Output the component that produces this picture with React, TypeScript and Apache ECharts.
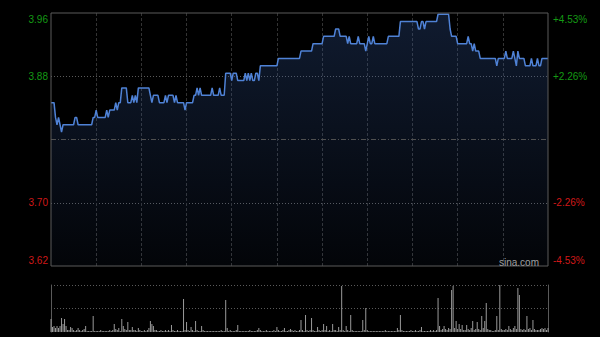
import React, { useEffect, useRef } from 'react';
import * as echarts from 'echarts';

const PRE_CLOSE = 3.79;
const PRICE_MIN = 3.6183;
const PRICE_MAX = 3.9617;
const PCT_MAX = 4.53;
const LAST_MINUTE = 330;
const LEFT_LABELS = ['3.62', '3.70', '', '3.88', '3.96'];
const RIGHT_LABELS = ['-4.53%', '-2.26%', '', '+2.26%', '+4.53%'];
const WATERMARK = 'sina.com';

const PRICES = [
  3.84, 3.84, 3.84, 3.82, 3.81, 3.82, 3.81, 3.80, 3.81, 3.81,
  3.81, 3.81, 3.81, 3.81, 3.81, 3.81, 3.82, 3.82, 3.81, 3.81,
  3.81, 3.81, 3.81, 3.81, 3.81, 3.81, 3.81, 3.81, 3.82, 3.82,
  3.83, 3.82, 3.82, 3.82, 3.82, 3.82, 3.82, 3.83, 3.82, 3.83,
  3.83, 3.83, 3.83, 3.84, 3.83, 3.84, 3.84, 3.86, 3.86, 3.86,
  3.86, 3.84, 3.84, 3.84, 3.85, 3.84, 3.85, 3.84, 3.86, 3.86,
  3.86, 3.86, 3.86, 3.86, 3.86, 3.86, 3.85, 3.84, 3.85, 3.85,
  3.85, 3.85, 3.84, 3.84, 3.84, 3.84, 3.85, 3.84, 3.85, 3.85,
  3.85, 3.85, 3.84, 3.85, 3.84, 3.84, 3.84, 3.84, 3.84, 3.83,
  3.84, 3.84, 3.84, 3.84, 3.84, 3.85, 3.85, 3.86, 3.85, 3.86,
  3.85, 3.85, 3.85, 3.85, 3.85, 3.85, 3.85, 3.86, 3.85, 3.85,
  3.85, 3.85, 3.86, 3.85, 3.85, 3.85, 3.88, 3.88, 3.88, 3.88,
  3.87, 3.88, 3.88, 3.88, 3.87, 3.87, 3.87, 3.87, 3.87, 3.88,
  3.87, 3.88, 3.87, 3.88, 3.87, 3.87, 3.88, 3.88, 3.87, 3.89,
  3.89, 3.89, 3.89, 3.89, 3.89, 3.89, 3.89, 3.89, 3.89, 3.89,
  3.89, 3.90, 3.90, 3.90, 3.90, 3.90, 3.90, 3.90, 3.90, 3.90,
  3.90, 3.90, 3.90, 3.90, 3.90, 3.90, 3.91, 3.91, 3.91, 3.91,
  3.91, 3.91, 3.91, 3.91, 3.92, 3.92, 3.92, 3.92, 3.92, 3.92,
  3.92, 3.93, 3.93, 3.93, 3.93, 3.93, 3.93, 3.93, 3.93, 3.94,
  3.94, 3.94, 3.93, 3.93, 3.93, 3.93, 3.93, 3.92, 3.93, 3.92,
  3.92, 3.92, 3.92, 3.92, 3.93, 3.92, 3.92, 3.92, 3.92, 3.91,
  3.92, 3.93, 3.92, 3.92, 3.93, 3.92, 3.92, 3.92, 3.92, 3.92,
  3.92, 3.92, 3.92, 3.92, 3.93, 3.93, 3.93, 3.93, 3.93, 3.93,
  3.93, 3.93, 3.95, 3.95, 3.95, 3.95, 3.95, 3.95, 3.95, 3.95,
  3.95, 3.95, 3.95, 3.95, 3.94, 3.94, 3.95, 3.95, 3.94, 3.95,
  3.95, 3.95, 3.95, 3.95, 3.95, 3.95, 3.95, 3.96, 3.96, 3.96,
  3.96, 3.96, 3.96, 3.96, 3.96, 3.94, 3.93, 3.93, 3.93, 3.93,
  3.92, 3.92, 3.92, 3.92, 3.92, 3.92, 3.92, 3.93, 3.92, 3.92,
  3.91, 3.92, 3.91, 3.91, 3.91, 3.90, 3.90, 3.90, 3.90, 3.90,
  3.90, 3.90, 3.90, 3.90, 3.90, 3.90, 3.89, 3.90, 3.90, 3.90,
  3.90, 3.90, 3.91, 3.90, 3.90, 3.90, 3.90, 3.91, 3.90, 3.89,
  3.91, 3.90, 3.90, 3.90, 3.90, 3.89, 3.89, 3.89, 3.89, 3.90,
  3.89, 3.89, 3.89, 3.90, 3.89, 3.89, 3.90, 3.90, 3.90, 3.90,
  3.90,
];

const VOL_MAX = 47;
const VOLUMES = [
  13, 5, 6, 4, 6, 4, 6, 14, 8, 13,
  6, 2, 2, 5, 4, 2, 1, 2, 4, 2,
  1, 2, 3, 6, 1, 1, 1, 1, 16, 1,
  1, 1, 1, 2, 1, 1, 1, 1, 1, 2,
  1, 2, 8, 3, 2, 4, 1, 13, 6, 3,
  2, 10, 2, 2, 5, 2, 2, 1, 4, 2,
  1, 1, 2, 1, 2, 4, 11, 8, 6, 2,
  2, 1, 1, 2, 1, 1, 2, 1, 2, 1,
  7, 2, 1, 1, 2, 1, 1, 1, 33, 2,
  10, 2, 1, 5, 2, 1, 11, 2, 1, 1,
  6, 2, 1, 1, 1, 1, 1, 1, 1, 1,
  1, 1, 1, 2, 1, 1, 32, 4, 1, 2,
  1, 1, 1, 2, 7, 1, 1, 1, 1, 1,
  1, 1, 2, 1, 1, 1, 1, 2, 4, 2,
  1, 1, 1, 2, 1, 1, 1, 1, 2, 1,
  5, 2, 1, 1, 2, 4, 1, 1, 2, 3,
  2, 1, 2, 1, 1, 2, 12, 2, 1, 17,
  2, 1, 2, 14, 2, 1, 1, 5, 2, 1,
  2, 8, 2, 6, 1, 2, 1, 8, 2, 2,
  1, 5, 2, 46, 2, 1, 6, 2, 1, 17,
  2, 1, 1, 1, 1, 1, 1, 12, 2, 24,
  2, 1, 1, 1, 1, 1, 1, 1, 1, 1,
  1, 1, 2, 1, 1, 1, 1, 1, 1, 1,
  4, 2, 17, 2, 1, 1, 1, 1, 1, 2,
  1, 1, 2, 1, 1, 2, 5, 1, 1, 1,
  1, 1, 2, 1, 2, 1, 2, 34, 6, 2,
  3, 6, 3, 2, 4, 3, 42, 46, 4, 11,
  3, 8, 3, 7, 2, 2, 7, 3, 2, 4,
  11, 2, 3, 10, 3, 2, 16, 4, 11, 29,
  3, 2, 2, 1, 1, 2, 16, 2, 47, 3,
  2, 2, 3, 2, 6, 3, 2, 4, 6, 3,
  44, 37, 3, 2, 3, 2, 16, 3, 4, 2,
  12, 3, 2, 2, 2, 3, 4, 3, 4, 2,
  4,
];

const GREEN = '#149a14';
const RED = '#d01818';
const FONT = '"Liberation Sans", Arial, sans-serif';

export default function App() {
  const ref = useRef<HTMLDivElement>(null);
  useEffect(() => {
    document.body.style.margin = '0';
    document.body.style.background = '#000';
    const chart = echarts.init(ref.current!, null, { renderer: 'svg' });
    const base = { fontSize: 10, fontFamily: FONT };
    const rich = {
      g: { ...base, color: GREEN },
      gt: { ...base, color: GREEN, padding: [12, 0, 0, 0] },
      r: { ...base, color: RED },
      rb: { ...base, color: RED, padding: [0, 0, 12, 0] },
    };
    const styleFor = (idx: number) => (idx === 0 ? 'rb' : idx === 1 ? 'r' : idx === 3 ? 'g' : 'gt');
    const xSplitColors = Array.from({ length: 12 }, (_, k) => (k === 0 || k === 11 ? 'transparent' : '#333'));
    chart.setOption({
      animation: false,
      backgroundColor: '#000',
      grid: [
        { left: 51, right: 52, top: 13, height: 253, show: true, borderColor: '#5a5a5a', borderWidth: 1, backgroundColor: 'transparent', z: 10, outerBoundsMode: 'none', containLabel: false },
        { left: 51, right: 52, top: 285, height: 47, show: false, outerBoundsMode: 'none', containLabel: false },
      ],
      xAxis: [
        {
          gridIndex: 0, type: 'value', min: 0, max: LAST_MINUTE, interval: 30,
          axisLine: { show: false }, axisTick: { show: false }, axisLabel: { show: false },
          splitLine: { show: true, lineStyle: { color: xSplitColors, type: [3, 2], width: 1 } },
        },
        {
          gridIndex: 1, type: 'value', min: 0, max: LAST_MINUTE, interval: 30,
          axisLine: { show: false }, axisTick: { show: false }, axisLabel: { show: false },
          splitLine: { show: false },
        },
      ],
      yAxis: [
        {
          gridIndex: 0, type: 'value', position: 'left', min: PRICE_MIN, max: PRICE_MAX,
          interval: (PRICE_MAX - PRICE_MIN) / 4,
          axisLine: { show: false }, axisTick: { show: false }, splitLine: { show: false },
          axisLabel: {
            margin: 3,
            formatter: (_v: number, idx: number) => {
              const t = LEFT_LABELS[idx] ?? '';
              return t ? `{${styleFor(idx)}|${t}}` : '';
            },
            rich,
          },
        },
        {
          gridIndex: 0, type: 'value', position: 'right', min: -PCT_MAX, max: PCT_MAX,
          interval: PCT_MAX / 2,
          axisLine: { show: false }, axisTick: { show: false },
          splitLine: { show: true, lineStyle: { color: ['transparent', '#5a5a5a', 'transparent', '#5a5a5a', 'transparent'], type: [1, 2], width: 1 } },
          axisLabel: {
            margin: 5,
            formatter: (_v: number, idx: number) => {
              const t = RIGHT_LABELS[idx] ?? '';
              return t ? `{${styleFor(idx)}|${t}}` : '';
            },
            rich,
          },
        },
        {
          gridIndex: 1, type: 'value', position: 'left', min: 0, max: VOL_MAX, interval: VOL_MAX / 2,
          axisLine: { show: true, lineStyle: { color: '#5a5a5a', width: 1 } },
          axisTick: { show: false }, axisLabel: { show: false },
          splitLine: { show: true, lineStyle: { color: ['transparent', '#5a5a5a', '#5a5a5a'], type: [1, 2], width: 1 } },
        },
        {
          gridIndex: 1, type: 'value', position: 'right', min: 0, max: VOL_MAX,
          axisLine: { show: true, lineStyle: { color: '#5a5a5a', width: 1 } },
          axisTick: { show: false }, axisLabel: { show: false }, splitLine: { show: false },
        },
      ],
      series: [
        {
          type: 'line', xAxisIndex: 0, yAxisIndex: 0,
          data: PRICES.map((p, i) => [i, p]),
          showSymbol: false, symbol: 'none',
          lineStyle: { color: '#4f82d6', width: 1.5 },
          areaStyle: {
            origin: 'start',
            color: new echarts.graphic.LinearGradient(0, 0, 0, 1, [
              { offset: 0, color: 'rgba(50,85,150,0.45)' },
              { offset: 1, color: 'rgba(50,85,150,0.08)' },
            ]),
          },
          markLine: {
            silent: true, symbol: ['none', 'none'], label: { show: false },
            lineStyle: { color: '#505050', type: [5, 2, 1, 2], width: 1 },
            data: [{ yAxis: PRE_CLOSE }],
          },
        },
        {
          type: 'bar', xAxisIndex: 1, yAxisIndex: 2,
          data: VOLUMES.map((v, i) => [i, v]),
          barWidth: 1,
          itemStyle: { color: '#9a9a9a' },
        },
      ],
      graphic: [
        {
          type: 'text', z: 20,
          style: { text: WATERMARK, x: 499, y: 262, fill: '#a0a0a0', font: `10px ${FONT}`, verticalAlign: 'middle' },
        },
      ],
    });
    return () => chart.dispose();
  }, []);
  return <div ref={ref} style={{ width: 600, height: 337 }} />;
}
